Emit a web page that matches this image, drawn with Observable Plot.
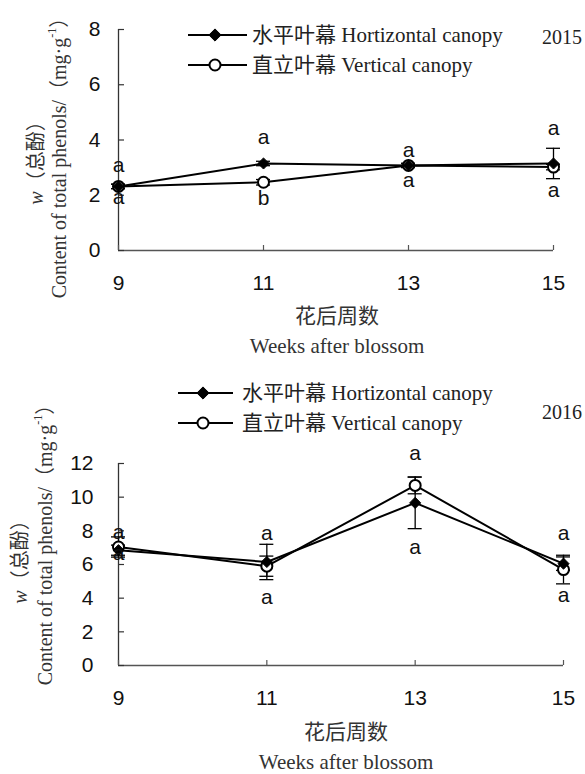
<!DOCTYPE html>
<html><head><meta charset="utf-8">
<script src="https://cdn.jsdelivr.net/npm/d3@7"></script>
<script src="https://cdn.jsdelivr.net/npm/@observablehq/plot@0.6"></script>
<style>
body{margin:0;background:#fff;}
#wrap{position:relative;width:585px;height:774px;overflow:hidden;background:#fff;}
#wrap svg{position:absolute;left:0;overflow:visible;}
</style></head><body><div id="wrap"></div>
<script>
// ---------- data ----------
const weeks = [9, 11, 13, 15];
const xTickLabels = ["9", "11", "13", "15"];
const seriesNames = ["水平叶幕 Hortizontal canopy", "直立叶幕 Vertical canopy"];
const yTitleCn = "总酚";
const yTitleEn = "Content of total phenols/";
const xTitleCn = "花后周数";
const xTitleEn = "Weeks after blossom";

// 2015
const h2015 = [2.32, 3.15, 3.08, 3.15];
const hErr2015 = [0.08, 0.08, 0.06, 0.55];
const v2015 = [2.32, 2.47, 3.08, 3.02];
const vErr2015 = [0.08, 0.1, 0.08, 0.1];
const letTop2015 = ["a", "a", "a", "a"];
const letBot2015 = ["a", "b", "a", "a"];
const letTopAt2015 = [3.08, 4.09, 3.62, 4.42];
const letBotAt2015 = [1.92, 1.88, 2.54, 2.17];
const yTicks2015 = [0, 2, 4, 6, 8];

// 2016
const h2016 = [6.85, 6.15, 9.66, 6.05];
const hErr2016 = [0.3, 1.05, 1.53, 0.4];
const v2016 = [7.04, 5.9, 10.7, 5.7];
const vErr2016 = [0.6, 0.6, 0.5, 0.85];
const letTop2016 = ["a", "a", "a", "a"];
const letBot2016 = ["a", "a", "a", "a"];
const letTopAt2016 = [7.93, 7.84, 12.6, 7.84];
const letBotAt2016 = [6.68, 4.07, 7.04, 4.17];
const yTicks2016 = [0, 2, 4, 6, 8, 10, 12];

// ---------- drawing ----------
const SERIF = "'Liberation Serif', 'Times New Roman', 'Noto Sans CJK SC', serif";
const SANS = "'Liberation Sans', Arial, sans-serif";
const wrap = document.getElementById("wrap");

function panel(cfg) {
  const {year, h, hErr, v, vErr, letTop, letBot, letTopAt, letBotAt, yTicks,
         height, top, mT, mB, mR, yPad, leg, yt, xt} = cfg;
  const rows = [];
  weeks.forEach((w, i) => rows.push({week: w, series: seriesNames[0], value: h[i], err: hErr[i]}));
  weeks.forEach((w, i) => rows.push({week: w, series: seriesNames[1], value: v[i], err: vErr[i]}));
  const caps = rows.flatMap(d => [{week: d.week, y: d.value - d.err}, {week: d.week, y: d.value + d.err}]);
  const letters = weeks.flatMap((w, i) => [
    {week: w, at: letTopAt[i], label: letTop[i]},
    {week: w, at: letBotAt[i], label: letBot[i]}
  ]);
  const plotW = 585 - 118 - mR, plotH = height - mT - mB;
  const yMax = yTicks[yTicks.length - 1];
  const svg = Plot.plot({
    width: 585, height, marginLeft: 118, marginRight: mR, marginTop: mT, marginBottom: mB,
    x: {domain: [9, 15], axis: null},
    y: {domain: [0, yMax], axis: null},
    style: {fontFamily: SANS, fontSize: "21px", color: "#111", background: "transparent"},
    marks: [
      Plot.ruleX([9], {stroke: "#333", strokeWidth: 1.3}),
      Plot.ruleY([0], {stroke: "#555", strokeWidth: 1.3}),
      Plot.tickY(yTicks, {y: d => d, insetRight: plotW - 6, stroke: "#333", strokeWidth: 1.2}),
      Plot.tickX(weeks, {x: d => d, insetTop: plotH - 5, stroke: "#555", strokeWidth: 1.2}),
      Plot.axisY({ticks: yTicks, tickSize: 0, tickPadding: yPad, label: null, tickFormat: d => String(d), fontSize: 21}),
      Plot.axisX({ticks: weeks, tickSize: 0, tickPadding: 25, label: null, tickFormat: d => xTickLabels[weeks.indexOf(d)], fontSize: 21}),
      Plot.line(rows, {x: "week", y: "value", z: "series", stroke: "#000", strokeWidth: 2}),
      Plot.ruleX(rows, {x: "week", y1: d => d.value - d.err, y2: d => d.value + d.err, stroke: "#000", strokeWidth: 1.3}),
      Plot.ruleY(caps, {x1: "week", x2: "week", y: "y", insetLeft: -7, insetRight: -7, stroke: "#000", strokeWidth: 1.3}),
      Plot.dot(rows.filter(d => d.series === seriesNames[1]), {x: "week", y: "value", symbol: "circle", r: 5.5, fill: "white", stroke: "#000", strokeWidth: 2}),
      Plot.dot(rows.filter(d => d.series === seriesNames[0]), {x: "week", y: "value", symbol: "diamond2", r: 5, fill: "#000", stroke: "#000", strokeWidth: 1}),
      Plot.text(letters, {x: "week", y: "at", text: "label", fontSize: 21, fill: "#111"})
    ]
  });
  svg.style.top = top + "px";
  wrap.appendChild(svg);

  const g = d3.select(svg).append("g").attr("text-anchor", "start");
  // legend
  const diamond = d3.symbol(d3.symbolDiamond2, Math.PI * 5.5 * 5.5)();
  const circle = d3.symbol(d3.symbolCircle, Math.PI * 5.5 * 5.5)();
  seriesNames.forEach((name, i) => {
    const y = leg.y[i];
    g.append("line").attr("x1", leg.x1).attr("x2", leg.x2).attr("y1", y).attr("y2", y)
      .attr("stroke", "#000").attr("stroke-width", 2);
    g.append("path").attr("d", i === 0 ? diamond : circle)
      .attr("transform", `translate(${leg.xm},${y})`)
      .attr("fill", i === 0 ? "#000" : "#fff").attr("stroke", "#000").attr("stroke-width", i === 0 ? 1 : 2);
    g.append("text").attr("x", leg.xt).attr("y", y).attr("dominant-baseline", "central").attr("text-anchor", "start")
      .attr("font-family", SERIF).attr("font-size", 21).attr("fill", "#222").text(name);
  });
  g.append("text").attr("x", 542).attr("y", leg.yearY).attr("dominant-baseline", "central").attr("text-anchor", "start")
    .attr("font-family", SERIF).attr("font-size", 20).attr("fill", "#222").text(year);
  // y title
  const t1 = g.append("text").attr("transform", `translate(${yt.x1},${yt.y1}) rotate(-90)`)
    .attr("text-anchor", "middle").attr("dominant-baseline", "central")
    .attr("font-family", SERIF).attr("font-size", 20).attr("fill", "#333");
  t1.append("tspan").attr("font-style", "italic").text("w");
  t1.append("tspan").text("（" + yTitleCn + "）");
  const t2 = g.append("text").attr("transform", `translate(${yt.x2},${yt.y2}) rotate(-90)`)
    .attr("text-anchor", "middle").attr("dominant-baseline", "central")
    .attr("font-family", SERIF).attr("font-size", 20).attr("fill", "#333");
  t2.append("tspan").text(yTitleEn + "（mg·g");
  t2.append("tspan").attr("font-size", 12).attr("baseline-shift", "super").text("-1");
  t2.append("tspan").text("）");
  // x title
  g.append("text").attr("x", xt.x).attr("y", xt.y1).attr("text-anchor", "middle").attr("dominant-baseline", "central")
    .attr("font-family", SERIF).attr("font-size", 21).attr("fill", "#333").text(xTitleCn);
  g.append("text").attr("x", xt.x).attr("y", xt.y2).attr("text-anchor", "middle").attr("dominant-baseline", "central")
    .attr("font-family", SERIF).attr("font-size", 21).attr("fill", "#333").text(xTitleEn);
}

panel({
  year: "2015", h: h2015, hErr: hErr2015, v: v2015, vErr: vErr2015,
  letTop: letTop2015, letBot: letBot2015, letTopAt: letTopAt2015, letBotAt: letBotAt2015,
  yTicks: yTicks2015, height: 370, top: 0, mT: 29, mB: 120, mR: 32, yPad: 18,
  leg: {x1: 188, x2: 247, xm: 215, xt: 252, y: [35, 65], yearY: 37},
  yt: {x1: 36, y1: 158, x2: 59, y2: 153},
  xt: {x: 337, y1: 316, y2: 346}
});
panel({
  year: "2016", h: h2016, hErr: hErr2016, v: v2016, vErr: vErr2016,
  letTop: letTop2016, letBot: letBot2016, letTopAt: letTopAt2016, letBotAt: letBotAt2016,
  yTicks: yTicks2016, height: 404, top: 370, mT: 93, mB: 109, mR: 22, yPad: 25,
  leg: {x1: 178, x2: 233, xm: 203, xt: 242, y: [23, 53], yearY: 42},
  yt: {x1: 20, y1: 187, x2: 45, y2: 170},
  xt: {x: 346, y1: 362, y2: 392}
});
</script></body></html>
